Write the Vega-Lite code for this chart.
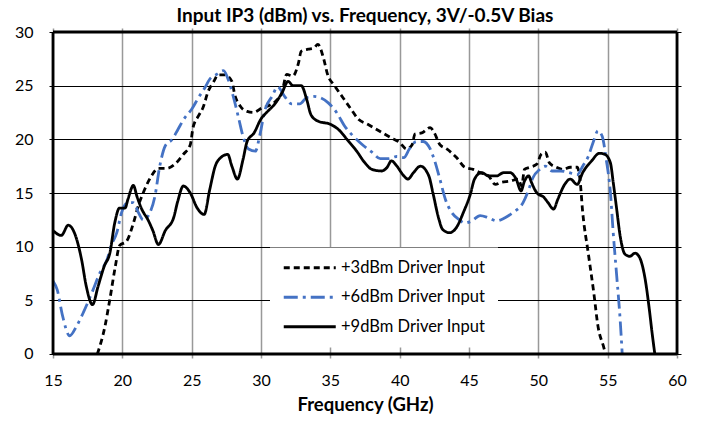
{
"$schema":"https://vega.github.io/schema/vega-lite/v6.json",
"width":632,"height":330,
"autosize":{"type":"pad"},
"padding":{"left":14,"top":7,"right":5,"bottom":5},
"background":"white",
"title":{"text":"Input IP3 (dBm) vs. Frequency, 3V/-0.5V Bias","font":"Lato","fontSize":19,"fontWeight":"bold","color":"black","offset":-2,"anchor":"middle"},
"config":{
 "view":{"stroke":null},
 "axis":{"labelFont":"Lato","labelFontSize":16,"labelColor":"black","titleFont":"Lato","titleFontSize":18.5,"titleFontWeight":"bold","titleColor":"black","domain":false,"ticks":false,"labelFlush":false,"labelOverlap":false},
 "legend":{"orient":"none","legendX":221,"legendY":219.5,"fillColor":"white","padding":12,"symbolType":"M-4,0H4","symbolSize":169,"symbolOffset":19.5,"symbolStrokeWidth":3,"labelFont":"Lato","labelFontSize":16.5,"labelColor":"black","rowPadding":12.5,"labelOffset":23,"title":null,"labelLimit":300}
},
"datasets":{
"d3":[[18.2,0],[18.75,2.6],[19.1,5.1],[19.5,8.2],[19.8,10.1],[20.3,10.5],[20.8,12.2],[21.15,13.8],[21.6,15.3],[22.1,16.6],[22.6,17.3],[23.2,17.3],[23.8,17.7],[24.4,18.6],[24.9,19.5],[25.1,21.1],[25.5,22.2],[25.8,22.9],[26.2,24.5],[26.6,25.4],[26.9,26.0],[27.4,26.0],[27.9,25.4],[28.1,24.2],[28.5,23.1],[29.0,22.6],[29.45,22.5],[30.05,22.9],[30.5,23.1],[31.1,23.6],[31.5,24.3],[31.85,26.05],[32.3,25.9],[32.7,27.1],[32.9,28.2],[33.4,28.4],[33.8,28.5],[34.1,28.85],[34.5,27.6],[34.8,26.05],[35.3,25.0],[35.9,23.9],[36.5,22.8],[37.0,21.9],[37.7,21.4],[38.5,20.8],[39.3,20.2],[40.0,19.7],[40.5,19.1],[40.9,19.5],[41.1,20.5],[41.6,20.6],[42.2,21.1],[42.5,20.6],[42.9,19.5],[43.4,19.1],[44.1,18.3],[44.7,17.4],[45.3,17.2],[45.8,16.9],[46.4,16.6],[46.9,15.8],[47.35,16.0],[47.95,16.1],[48.55,16.3],[48.8,15.65],[49.0,17.2],[49.4,17.4],[49.9,17.7],[50.2,18.6],[50.5,18.8],[50.8,17.8],[51.3,17.4],[51.8,17.2],[52.3,17.4],[52.8,17.4],[53.0,16.3],[53.2,13.2],[53.6,9.4],[54.0,5.7],[54.3,2.6],[54.7,0.7],[54.85,0]],
"d6":[[15,6.8],[15.3,6.0],[15.7,3.5],[16.2,1.7],[16.7,2.6],[17.2,3.9],[17.8,5.7],[18.4,7.6],[18.9,8.8],[19.2,10.1],[19.6,11.3],[19.95,13.2],[20.4,14.1],[20.8,14.1],[21.15,13.2],[21.5,12.5],[22.0,13.2],[22.35,14.7],[22.7,17.5],[23.1,19.4],[23.6,20.0],[24.0,20.9],[24.5,22.0],[25.0,22.8],[25.5,23.9],[25.95,24.8],[26.3,25.6],[26.8,26.05],[27.3,26.4],[27.6,25.7],[28.0,24.0],[28.4,21.9],[28.7,20.3],[29.1,19.1],[29.6,18.9],[29.9,20.3],[30.3,22.8],[30.8,24.0],[31.2,24.9],[31.7,24.0],[32.2,23.3],[32.8,23.3],[33.3,23.9],[33.8,24.0],[34.25,23.9],[34.85,23.4],[35.45,22.5],[36.05,21.2],[36.65,20.3],[37.4,19.4],[38.0,18.8],[38.6,18.2],[39.2,18.2],[39.8,18.4],[40.3,18.3],[40.7,19.1],[41.2,19.8],[41.7,19.8],[42.2,19.1],[42.5,18.1],[42.9,16.3],[43.3,14.4],[43.7,13.3],[44.3,12.5],[44.7,12.2],[45.2,12.4],[45.8,12.9],[46.4,12.7],[47.0,12.4],[47.6,12.7],[48.2,13.2],[48.9,14.1],[49.3,15.3],[49.6,16.4],[50.1,17.2],[50.5,17.5],[51.0,17.05],[51.6,17.05],[52.2,16.9],[52.8,16.7],[53.2,17.5],[53.6,18.4],[53.95,19.7],[54.3,20.8],[54.6,20.3],[54.9,18.1],[55.2,15.0],[55.4,11.3],[55.65,7.3],[55.9,3.2],[56.05,0]],
"d9":[[15,11.5],[15.6,11.05],[16.1,12.0],[16.6,11.1],[17.06,8.8],[17.4,6.3],[17.85,4.6],[18.25,6.3],[18.7,8.2],[19.1,9.4],[19.45,12.2],[19.8,13.6],[20.2,13.6],[20.4,14.4],[20.8,15.7],[21.05,14.7],[21.4,13.5],[21.85,12.5],[22.2,11.5],[22.6,10.2],[23.1,11.5],[23.7,12.7],[24.0,14.25],[24.4,15.65],[24.9,15.0],[25.4,13.6],[25.9,13.0],[26.3,15.3],[26.7,17.5],[27.1,18.3],[27.6,18.6],[27.9,17.5],[28.3,16.3],[28.7,18.1],[29.0,19.8],[29.5,20.6],[30.0,21.9],[30.4,22.5],[31.0,23.3],[31.5,24.3],[31.96,25.4],[32.3,25.0],[32.9,25.0],[33.3,23.7],[33.6,22.3],[34.1,21.7],[35.0,21.4],[35.6,20.9],[36.2,20.0],[36.9,18.9],[37.5,17.8],[38.0,17.2],[38.7,17.05],[39.1,17.4],[39.4,18.0],[39.8,17.5],[40.3,16.6],[40.6,16.3],[41.0,16.9],[41.5,17.5],[42.1,16.6],[42.4,15.0],[42.8,12.7],[43.1,11.6],[43.6,11.3],[44.1,11.8],[44.6,13.2],[45.1,14.9],[45.4,16.3],[45.9,16.9],[46.4,16.6],[47.0,16.6],[47.5,16.9],[47.95,16.9],[48.4,16.3],[48.75,15.2],[49.0,16.1],[49.3,16.6],[49.5,16.0],[49.9,15.0],[50.4,14.6],[50.7,14.1],[51.1,13.5],[51.4,14.4],[51.9,15.8],[52.3,16.3],[52.8,15.8],[53.2,16.9],[53.85,18.0],[54.4,18.7],[54.8,18.6],[55.2,17.8],[55.4,16.0],[55.65,13.5],[55.9,11.0],[56.25,9.3],[56.6,9.1],[56.97,9.4],[57.3,9.0],[57.7,7.0],[58.0,4.2],[58.2,2.0],[58.4,0]],
"vb":[{"f":15},{"f":60}],
"hb":[{"v":0},{"v":30}]
},
"layer":[
 {"data":{"name":"d3"},"transform":[{"calculate":"'+3dBm Driver Input'","as":"series"},{"calculate":"datum[0]","as":"freq"},{"calculate":"datum[1]","as":"ip3"}],
  "mark":{"type":"line","strokeWidth":2.8,"interpolate":"monotone"},
  "encoding":{
   "x":{"field":"freq","type":"quantitative","scale":{"domain":[14.7115,60.2885],"nice":false,"zero":false},"axis":{"values":[15,20,25,30,35,40,45,50,55,60],"title":"Frequency (GHz)","grid":true,"gridColor":"#999999","gridWidth":1.5,"labelPadding":14,"titlePadding":7}},
   "y":{"field":"ip3","type":"quantitative","scale":{"domain":[-0.3727,30.3727],"nice":false,"zero":false},"axis":{"values":[0,5,10,15,20,25,30],"title":null,"grid":true,"gridColor":"black","gridWidth":1,"labelPadding":16}},
   "color":{"field":"series","type":"nominal","scale":{"domain":["+3dBm Driver Input","+6dBm Driver Input","+9dBm Driver Input"],"range":["black","#4472C4","black"]}},
   "strokeDash":{"field":"series","type":"nominal","scale":{"domain":["+3dBm Driver Input","+6dBm Driver Input","+9dBm Driver Input"],"range":[[6,4],[14,5,3,5],[1,0]]}}
  }},
 {"data":{"name":"d6"},"transform":[{"calculate":"'+6dBm Driver Input'","as":"series"},{"calculate":"datum[0]","as":"freq"},{"calculate":"datum[1]","as":"ip3"}],
  "mark":{"type":"line","strokeWidth":2.8,"interpolate":"monotone"},
  "encoding":{"x":{"field":"freq","type":"quantitative"},"y":{"field":"ip3","type":"quantitative"},"color":{"field":"series","type":"nominal"},"strokeDash":{"field":"series","type":"nominal"}}},
 {"data":{"name":"d9"},"transform":[{"calculate":"'+9dBm Driver Input'","as":"series"},{"calculate":"datum[0]","as":"freq"},{"calculate":"datum[1]","as":"ip3"}],
  "mark":{"type":"line","strokeWidth":2.8,"interpolate":"monotone"},
  "encoding":{"x":{"field":"freq","type":"quantitative"},"y":{"field":"ip3","type":"quantitative"},"color":{"field":"series","type":"nominal"},"strokeDash":{"field":"series","type":"nominal"}}},
 {"data":{"name":"vb"},
  "mark":{"type":"rule","stroke":"black","strokeWidth":2.8},
  "encoding":{"x":{"field":"f","type":"quantitative"},"y":{"datum":0,"type":"quantitative"},"y2":{"datum":30}}},
 {"data":{"name":"hb"},
  "mark":{"type":"rule","stroke":"black","strokeWidth":2.8},
  "encoding":{"y":{"field":"v","type":"quantitative"},"x":{"datum":15,"type":"quantitative"},"x2":{"datum":60}}}
]
}
